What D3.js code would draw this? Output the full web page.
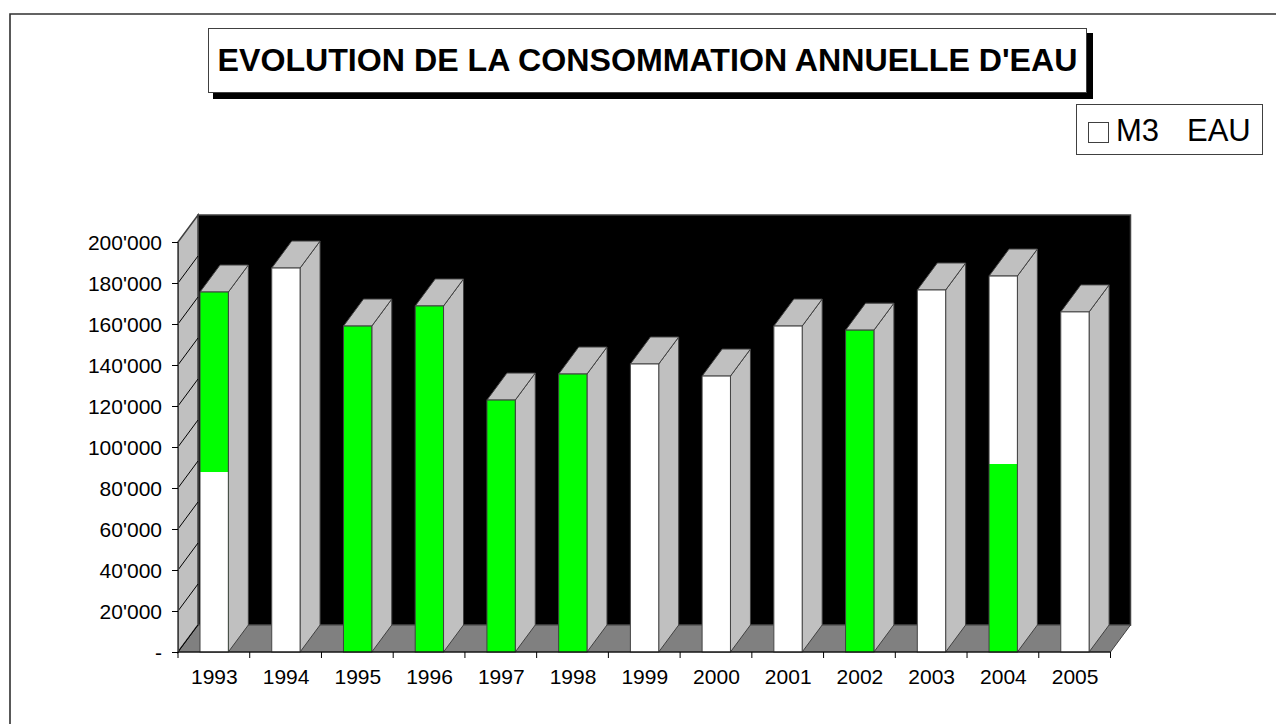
<!DOCTYPE html>
<html><head><meta charset="utf-8">
<script src="https://cdnjs.cloudflare.com/ajax/libs/d3/7.8.5/d3.min.js"></script>
<style>html,body{margin:0;padding:0;background:#fff}svg{display:block}text{font-family:"Liberation Sans",Arial,sans-serif;fill:#000}</style>
</head><body><div id="c"></div>
<script>
const years=["1993","1994","1995","1996","1997","1998","1999","2000","2001","2002","2003","2004","2005"];
const values=[175600,187300,159000,168800,122900,135600,140500,134600,159000,157000,176600,183400,165900];
const lowerValues=[87800,187300,0,0,0,0,140500,134600,159000,0,176600,0,165900];
const greenLower=[91700];
const greenLowerYear=["2004"];
const tickValues=d3.range(0,200001,20000);
const titleText="EVOLUTION DE LA CONSOMMATION ANNUELLE D'EAU";
const legendName="M3";
const legendUnit="EAU";
const W=1276,H=724;
const svg=d3.select("#c").append("svg").attr("width",W).attr("height",H);
const xEdge=d3.scaleLinear().domain([0,years.length]).range([178,1110.5]);
const step=xEdge(1)-xEdge(0);
const y=d3.scaleLinear().domain([0,200000]).range([652,242]);
const dx=20,dy=-27;
const wallTop=215;
const LINE="#404040";
svg.append("path").attr("d",`M10,${H} V14 H${W}`).attr("fill","none").attr("stroke","#303030").attr("stroke-width",1.6);
const poly=(pts,fill,stroke,sw)=>svg.append("polygon").attr("points",pts.map(p=>p.join(",")).join(" ")).attr("fill",fill).attr("stroke",stroke||LINE).attr("stroke-width",sw||1);
const x0=xEdge(0),x1=xEdge(years.length),yb=y(0);
poly([[x0+dx,wallTop],[x1+dx,wallTop],[x1+dx,yb+dy],[x0+dx,yb+dy]],"#000",LINE,1.5);
poly([[x0,y(200000)],[x0+dx,wallTop],[x0+dx,yb+dy],[x0,yb]],"#c0c0c0",LINE,1.5);
poly([[x0,yb],[x1,yb],[x1+dx,yb+dy],[x0+dx,yb+dy]],"#808080",LINE,1);
svg.append("g").selectAll("line").data(tickValues.slice(1,-1)).join("line")
 .attr("x1",x0).attr("x2",x0+dx).attr("y1",d=>y(d)).attr("y2",d=>y(d)+dy).attr("stroke","#000").attr("stroke-width",1);
svg.append("line").attr("x1",x0).attr("y1",yb).attr("x2",x0+dx).attr("y2",yb+dy).attr("stroke","#000");
const GREEN="#00ff00";
years.forEach((yr,i)=>{
  const bw=step*0.395, bx=xEdge(i)+22, v=values[i], top=y(v);
  poly([[bx+bw,yb],[bx+bw+dx,yb+dy],[bx+bw+dx,top+dy],[bx+bw,top]],"#c0c0c0",LINE,1);
  poly([[bx,top],[bx+dx,top+dy],[bx+bw+dx,top+dy],[bx+bw,top]],"#c0c0c0",LINE,1);
  const gi=greenLowerYear.indexOf(yr);
  let split, lowCol, upCol;
  if(gi>=0){split=greenLower[gi];lowCol=GREEN;upCol="#fff";}
  else if(lowerValues[i]===0){split=0;lowCol=GREEN;upCol=GREEN;}
  else if(lowerValues[i]>=v){split=v;lowCol="#fff";upCol="#fff";}
  else {split=lowerValues[i];lowCol="#fff";upCol=GREEN;}
  svg.append("rect").attr("x",bx).attr("y",top).attr("width",bw).attr("height",yb-top).attr("fill",upCol);
  svg.append("rect").attr("x",bx).attr("y",y(split)).attr("width",bw).attr("height",yb-y(split)).attr("fill",lowCol);
  svg.append("rect").attr("x",bx).attr("y",top).attr("width",bw).attr("height",yb-top).attr("fill","none").attr("stroke",LINE).attr("stroke-width",1);
});
const yAxis=d3.axisLeft(y).tickValues(tickValues).tickSize(6).tickPadding(10)
 .tickFormat(d=>d===0?"-":d3.format(",")(d).replace(/,/g,"'"));
const gy=svg.append("g").attr("transform",`translate(${x0},0)`).call(yAxis);
gy.selectAll("text").style("font-size","21px").attr("dy","0.35em");
gy.select(".domain").attr("stroke","#404040");
const gx=svg.append("g").attr("transform",`translate(0,${yb})`);
const tickPos=d3.range(0,years.length+1);
gx.selectAll("line.t").data(tickPos).join("line").attr("x1",d=>xEdge(d)).attr("x2",d=>xEdge(d)).attr("y1",0).attr("y2",6).attr("stroke","#000");
gx.selectAll("text").data(years).join("text").attr("x",(d,i)=>xEdge(i+0.5)+0.5).attr("y",32).attr("text-anchor","middle").style("font-size","21px").text(d=>d);
gx.append("line").attr("x1",x0).attr("x2",x1).attr("y1",0).attr("y2",0).attr("stroke","#000");
svg.append("rect").attr("x",213).attr("y",33).attr("width",880).attr("height",66).attr("fill","#000");
svg.append("rect").attr("x",208.5).attr("y",28.5).attr("width",878).attr("height",64).attr("fill","#fff").attr("stroke",LINE);
svg.append("text").attr("x",647.5).attr("y",71).attr("text-anchor","middle").style("font-size","32.15px").style("font-weight","bold").text(titleText);
svg.append("rect").attr("x",1076.5).attr("y",104.5).attr("width",186).attr("height",50).attr("fill","#fff").attr("stroke",LINE);
svg.append("rect").attr("x",1088.5).attr("y",122.5).attr("width",20).attr("height",20).attr("fill","#fff").attr("stroke",LINE);
svg.append("text").attr("x",1116).attr("y",141).style("font-size","31px").text(legendName);
svg.append("text").attr("x",1187).attr("y",141).style("font-size","31px").text(legendUnit);
</script></body></html>
